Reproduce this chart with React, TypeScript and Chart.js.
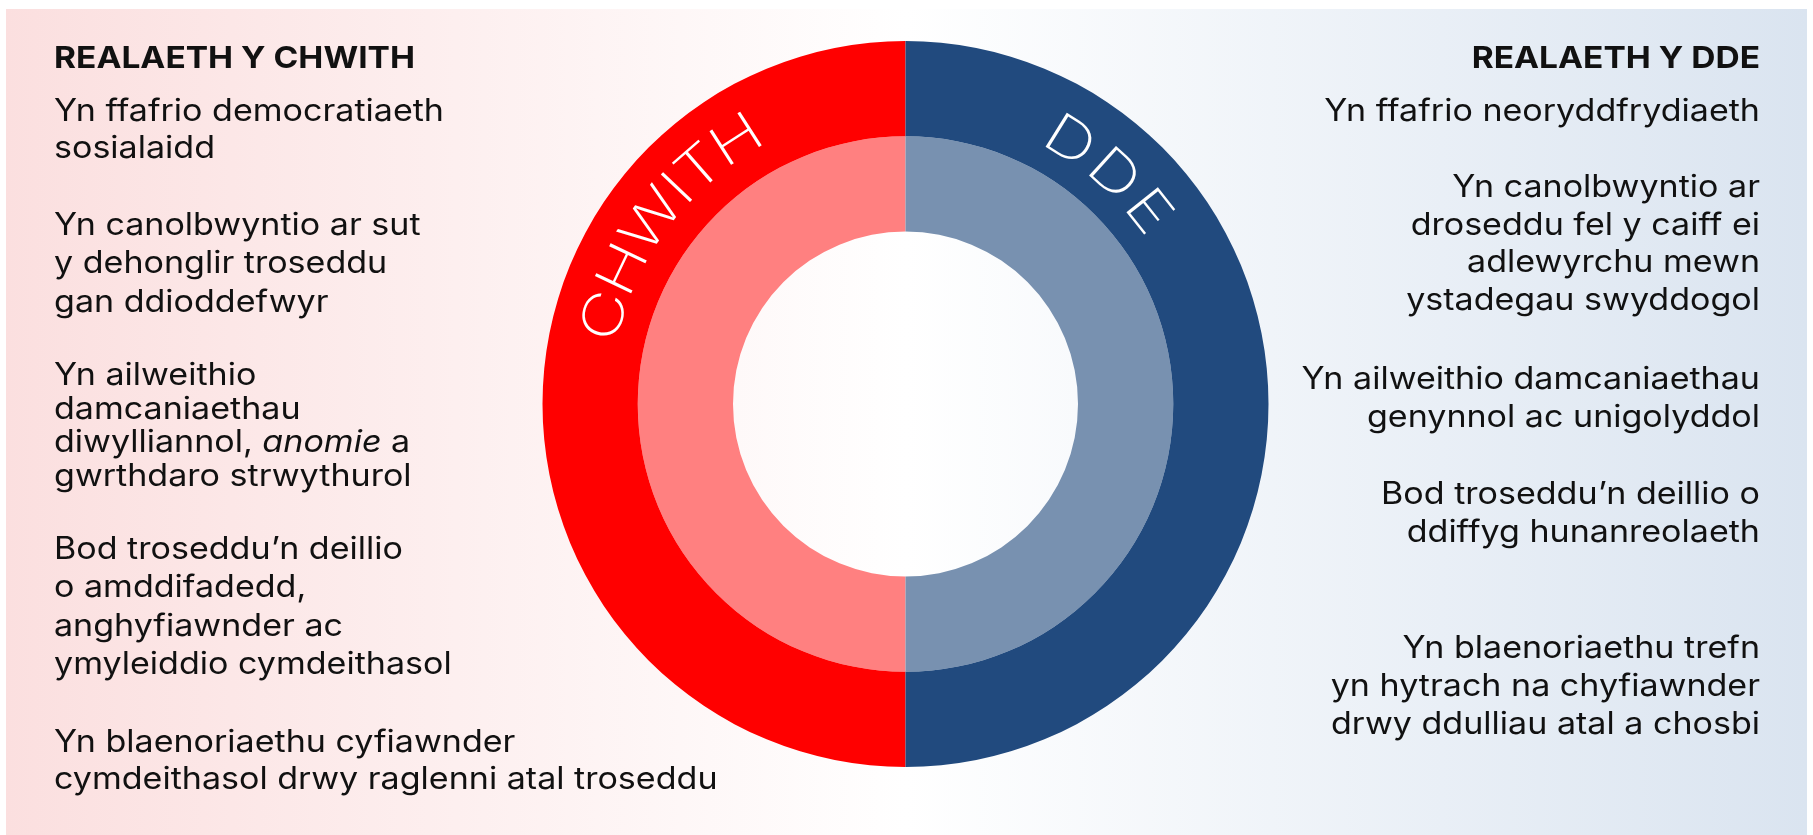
import React, { useEffect, useRef } from "react";
import { Chart, registerables } from "chart.js";

Chart.register(...registerables);

// ---------- data ----------
const sideLabels = ["Realaeth y Chwith", "Realaeth y Dde"];
const outerValues = [50, 50];
const innerValues = [50, 50];
const outerColors = ["#FF0000", "#214A7E"];
const innerColors = ["#FF8080", "#7891B0"];
const ringLabels = ["CHWITH", "DDE"];

const leftHeading = "REALAETH Y CHWITH";
const rightHeading = "REALAETH Y DDE";

const leftPoints = [
  ["Yn ffafrio democratiaeth", "sosialaidd"],
  ["Yn canolbwyntio ar sut", "y dehonglir troseddu", "gan ddioddefwyr"],
  ["Yn ailweithio", "damcaniaethau", "diwylliannol, *anomie* a", "gwrthdaro strwythurol"],
  ["Bod troseddu\u2019n deillio", "o amddifadedd,", "anghyfiawnder ac", "ymyleiddio cymdeithasol"],
  ["Yn blaenoriaethu cyfiawnder", "cymdeithasol drwy raglenni atal troseddu"],
];

const rightPoints = [
  ["Yn ffafrio neoryddfrydiaeth"],
  ["Yn canolbwyntio ar", "droseddu fel y caiff ei", "adlewyrchu mewn", "ystadegau swyddogol"],
  ["Yn ailweithio damcaniaethau", "genynnol ac unigolyddol"],
  ["Bod troseddu\u2019n deillio o", "ddiffyg hunanreolaeth"],
  ["Yn blaenoriaethu trefn", "yn hytrach na chyfiawnder", "drwy ddulliau atal a chosbi"],
];

// ---------- layout ----------
const W = 1813;
const H = 835;
const FONT = "Inter, 'Open Sans', 'DejaVu Sans', sans-serif";
const leftX = 54;
const rightX = 1760;
const headingY = 68.3;
const leftBlocks = [
  { y: 120.7, lh: 37.6 },
  { y: 235, lh: 38.3 },
  { y: 385, lh: 33.6 },
  { y: 559, lh: 38.3 },
  { y: 751.7, lh: 37.3 },
];
const rightBlocks = [
  { y: 120.7, lh: 38 },
  { y: 196.7, lh: 37.8 },
  { y: 389, lh: 38.3 },
  { y: 504, lh: 38.3 },
  { y: 658.3, lh: 38 },
];
const ringLabelLayout = [
  { angleDeg: -53.1, arc: 226, rOff: 0 },
  { angleDeg: 41.8, arc: 107, rOff: -3 },
];

const bodySize = 30.5;
const headSize = 30.5;
const lblSize = 55;
const lblScaleX = 1.25;

function parseSegments(line: string) {
  const parts = line.split("*");
  return parts.map((t, i) => ({ text: t, italic: i % 2 === 1 })).filter((s) => s.text.length > 0);
}

const bgPlugin = {
  id: "bgPlugin",
  beforeDraw(chart: any) {
    const ctx = chart.ctx as CanvasRenderingContext2D;
    ctx.save();
    ctx.fillStyle = "#FFFFFF";
    ctx.fillRect(0, 0, W, H);
    const g = ctx.createLinearGradient(6, 0, 1807, 0);
    g.addColorStop(0, "#FBDFDF");
    g.addColorStop(0.5, "#FFFFFF");
    g.addColorStop(1, "#DAE4F0");
    ctx.fillStyle = g;
    ctx.fillRect(6, 9, 1801, H - 9);
    ctx.restore();
  },
};

const textPlugin = {
  id: "textPlugin",
  afterDraw(chart: any) {
    const ctx = chart.ctx as CanvasRenderingContext2D;
    ctx.save();
    ctx.fillStyle = "#111111";
    ctx.textBaseline = "alphabetic";
    ctx.textAlign = "left";

    const drawScaled = (txt: string, x: number, y: number, sx: number) => {
      ctx.save();
      ctx.translate(x, y);
      ctx.scale(sx, 1);
      ctx.fillText(txt, 0, 0);
      ctx.restore();
    };

    // headings
    ctx.font = `700 ${headSize}px ${FONT}`;
    const hsx = 361 / ctx.measureText(leftHeading).width;
    drawScaled(leftHeading, leftX, headingY, hsx);
    const rhw = ctx.measureText(rightHeading).width * hsx;
    drawScaled(rightHeading, rightX - rhw, headingY, hsx);

    // body
    ctx.font = `400 ${bodySize}px ${FONT}`;
    const bsx = 390 / ctx.measureText(leftPoints[0][0]).width;
    const drawLine = (line: string, x: number, y: number, align: "left" | "right") => {
      const segs = parseSegments(line);
      const widths = segs.map((s) => {
        ctx.font = `${s.italic ? "italic " : ""}400 ${bodySize}px ${FONT}`;
        return ctx.measureText(s.text).width * bsx;
      });
      const total = widths.reduce((a, b) => a + b, 0);
      let cx = align === "left" ? x : x - total;
      segs.forEach((s, i) => {
        ctx.font = `${s.italic ? "italic " : ""}400 ${bodySize}px ${FONT}`;
        drawScaled(s.text, cx, y, bsx);
        cx += widths[i];
      });
    };
    leftPoints.forEach((block, bi) => {
      block.forEach((line, li) => {
        drawLine(line, leftX, leftBlocks[bi].y + li * leftBlocks[bi].lh, "left");
      });
    });
    rightPoints.forEach((block, bi) => {
      block.forEach((line, li) => {
        drawLine(line, rightX, rightBlocks[bi].y + li * rightBlocks[bi].lh, "right");
      });
    });
    ctx.restore();

    // curved ring labels
    const arc0: any = chart.getDatasetMeta(0).data[0];
    if (!arc0) return;
    const cx = arc0.x;
    const cy = arc0.y;
    const rMid = (arc0.innerRadius + arc0.outerRadius) / 2;
    const capH = lblSize * 0.727;
    ctx.save();
    ctx.fillStyle = "#FFFFFF";
    ctx.font = `200 ${lblSize}px ${FONT}`;
    ctx.textAlign = "center";
    ctx.textBaseline = "alphabetic";
    ringLabels.forEach((label, k) => {
      const lay = ringLabelLayout[k];
      const r = rMid + lay.rOff;
      const chars = label.split("");
      const ws = chars.map((c) => ctx.measureText(c).width * lblScaleX);
      const n = chars.length;
      const inner = ws.reduce((a, b) => a + b, 0) - ws[0] / 2 - ws[n - 1] / 2;
      const sp = n > 1 ? (lay.arc - inner) / (n - 1) : 0;
      let pos = 0;
      chars.forEach((c, i) => {
        if (i > 0) pos += ws[i - 1] / 2 + sp + ws[i] / 2;
        const ang = (lay.angleDeg * Math.PI) / 180 + (pos - lay.arc / 2) / r;
        ctx.save();
        ctx.translate(cx, cy);
        ctx.rotate(ang);
        ctx.translate(0, -(r - capH / 2));
        ctx.scale(lblScaleX, 1);
        ctx.fillText(c, 0, 0);
        ctx.restore();
      });
    });
    ctx.restore();
  },
};

export default function App() {
  const ref = useRef<HTMLCanvasElement | null>(null);
  useEffect(() => {
    if (!ref.current) return;
    const chart = new Chart(ref.current, {
      type: "doughnut",
      data: {
        labels: sideLabels,
        datasets: [
          {
            data: outerValues,
            backgroundColor: outerColors,
            borderWidth: 0,
            hoverOffset: 0,
          },
          {
            data: innerValues,
            backgroundColor: innerColors,
            borderWidth: 0,
            hoverOffset: 0,
          },
        ],
      },
      options: {
        responsive: false,
        animation: false,
        rotation: 180,
        radius: 363,
        cutout: 172.5,
        layout: { padding: { left: 400, right: 402, top: 41, bottom: 68 } },
        plugins: {
          legend: { display: false },
          tooltip: { enabled: false },
        },
        events: [],
      } as any,
      plugins: [bgPlugin, textPlugin],
    });
    return () => chart.destroy();
  }, []);
  return (
    <div style={{ position: "fixed", left: 0, top: 0, width: W, height: H }}>
      <canvas ref={ref} width={W} height={H} style={{ display: "block", width: W, height: H }} />
    </div>
  );
}
